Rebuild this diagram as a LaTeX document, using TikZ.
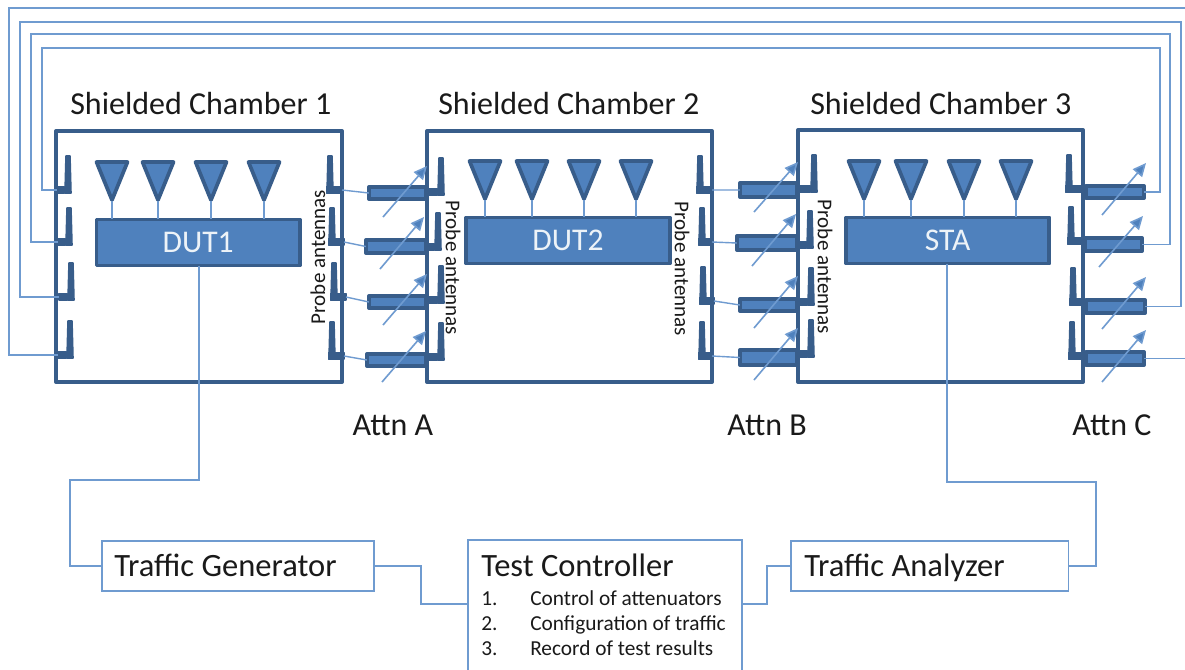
\documentclass[tikz,border=0pt]{standalone}
\usepackage{fontspec}
\setmainfont{Carlito}
\usetikzlibrary{arrows.meta}
\definecolor{bfill}{HTML}{4F81BD}
\definecolor{bdark}{HTML}{385D8A}
\definecolor{wire}{HTML}{6F9BD0}
\definecolor{txt}{HTML}{1A1A1A}
\tikzset{
 x=0.75pt,y=-0.75pt,
 chamber/.style={draw=bdark,line width=3pt,line join=round,inner sep=0pt,outer sep=0pt,anchor=north west},
 dutbox/.style={draw=bdark,fill=bfill,line width=2.8pt,line join=round,inner sep=0pt,outer sep=0pt,anchor=north west},
 attbox/.style={draw=bdark,fill=bfill,line width=2.8pt,line join=round,inner sep=0pt,outer sep=0pt,anchor=north west},
 tri/.style={draw=bdark,fill=bfill,line width=2.8pt,line join=round},
 wireline/.style={draw=wire,line width=1.05pt},
 boxline/.style={draw=wire,line width=1.05pt,inner sep=0pt,outer sep=0pt,anchor=north west},
 antbody/.style={fill=bdark,draw=bdark,line width=1.2pt,line join=round},
 arrowline/.style={draw=wire,line width=1.2pt,-{Triangle[length=10pt,width=9pt,fill=bfill]}},
 title/.style={text=txt,font=\fontsize{24pt}{28pt}\selectfont,inner sep=0pt,anchor=base west},
 boxtext/.style={text=txt,font=\fontsize{24.4pt}{28pt}\selectfont,inner sep=0pt,anchor=base west},
 attn/.style={text=txt,font=\fontsize{24pt}{28pt}\selectfont,inner sep=0pt},
 probe/.style={text=txt,font=\fontsize{15.8pt}{18pt}\selectfont,inner sep=0pt},
 listtext/.style={text=txt,font=\fontsize{16pt}{19pt}\selectfont,inner sep=0pt,anchor=base west},
 duttext/.style={text=white!90!bfill,font=\fontsize{23.7pt}{26pt}\selectfont,inner sep=0pt},
}
\newcommand{\antR}[4]{% name, x, top y, foot x (attached end)
 \coordinate (#1) at (#4,{#3+34});
 \draw[antbody] ({#2-2},#3) -- ({#2+2},#3) -- ({#2+3},{#3+37}) -- ({#2-3},{#3+37}) -- cycle;
 \draw[antbody] ({#2-3.4},{#3+30.5}) rectangle (#4,{#3+37});
}
\newcommand{\tria}[3]{% name, x, y
 \draw[tri] ({#2-15.5},#3) -- ({#2+15.5},#3) -- (#2,{#3+38}) -- cycle;
 \coordinate (#1) at (#2,{#3+39});
}
\newcommand{\atten}[7]{% name, x1,y1,x2,y2, arrow start, arrow tip
 \node[attbox,minimum width={(#4-#2-3.8)*0.75pt},minimum height={(#5-#3-3.8)*0.75pt}] (#1) at ({#2+1.9},{#3+1.9}) {};
 \draw[arrowline] (#6) -- (#7);
}
\begin{document}
\begin{tikzpicture}
\useasboundingbox (0,0) rectangle (1185,669);
\fill[white] (0,0) rectangle (1185,669);
% titles
\node[title] (t1) at (70,114) {Shielded Chamber 1};
\node[title] (t2) at (438,114) {Shielded Chamber 2};
\node[title] (t3) at (810,114) {Shielded Chamber 3};
\coordinate (e1) at (1185,8);
\coordinate (e2) at (1185,359);
% chambers
\node[chamber,minimum width=214.5pt,minimum height=188.25pt] (c1) at (56,131) {};
\node[chamber,minimum width=213.75pt,minimum height=188.25pt] (c2) at (427,131) {};
\node[chamber,minimum width=213.75pt,minimum height=189pt] (c3) at (798,130) {};
% DUTs
\node[dutbox,duttext,minimum width=152.5pt,minimum height=34.5pt] (d1) at (96.5,219.5) {DUT1};
\node[dutbox,duttext,minimum width=153pt,minimum height=34.5pt] (d2) at (466,217.5) {DUT2};
\node[dutbox,duttext,minimum width=152.5pt,minimum height=34.5pt] (d3) at (846,217.5) {STA};
% triangles
\foreach \i/\x in {1/112,2/158,3/211,4/264}{\tria{ta\i}{\x}{162}\draw[wireline] (ta\i) -- (\x,219);}
\foreach \i/\x in {1/485,2/532,3/584,4/636}{\tria{tb\i}{\x}{161}\draw[wireline] (tb\i) -- (\x,217);}
\foreach \i/\x in {1/864,2/911,3/964,4/1016}{\tria{tc\i}{\x}{161}\draw[wireline] (tc\i) -- (\x,217);}
% antennas
\antR{l1}{68}{156}{57}\antR{l2}{69}{208}{58}\antR{l3}{71}{263}{59}\antR{l4}{70}{321}{58}
\antR{a1}{330}{156}{342}\antR{a2}{332}{208}{344}\antR{a3}{334}{263}{346}\antR{a4}{332}{322}{344}
\antR{b1}{441}{158}{427}\antR{b2}{438}{213}{427}\antR{b3}{441}{266}{427}\antR{b4}{441}{323}{427}
\antR{f1}{700}{156}{712}\antR{f2}{702}{208}{712}\antR{f3}{703}{267}{714}\antR{f4}{702}{322}{712}
\antR{g1}{814}{155}{798}\antR{g2}{810}{211}{798}\antR{g3}{811}{268}{798}\antR{g4}{811}{320}{798}
\antR{h1}{1069}{155}{1083}\antR{h2}{1071}{207}{1083}\antR{h3}{1073}{268}{1083}\antR{h4}{1072}{322}{1083}
% attenuators
\coordinate (s1) at (383,217);\coordinate (p1) at (427,166);
\coordinate (s2) at (380,269);\coordinate (p2) at (424,217);
\coordinate (s3) at (383,325);\coordinate (p3) at (427,274);
\coordinate (s4) at (382,382);\coordinate (p4) at (426,331);
\atten{A1}{367}{185}{428}{201}{s1}{p1}
\atten{A2}{364}{238}{428}{255}{s2}{p2}
\atten{A3}{367}{294}{428}{310}{s3}{p3}
\atten{A4}{365}{352}{428}{368}{s4}{p4}
\coordinate (s5) at (754,212);\coordinate (p5) at (798,162);
\coordinate (s6) at (752,266);\coordinate (p6) at (796,214);
\coordinate (s7) at (754,328);\coordinate (p7) at (798,276);
\coordinate (s8) at (754,380);\coordinate (p8) at (798,328);
\atten{B1}{738}{181}{799}{199}{s5}{p5}
\atten{B2}{735}{234}{799}{252}{s6}{p6}
\atten{B3}{738}{297}{799}{313}{s7}{p7}
\atten{B4}{738}{348}{799}{367}{s8}{p8}
\coordinate (s9) at (1102,215);\coordinate (p9) at (1146,163);
\coordinate (s10) at (1099,267);\coordinate (p10) at (1143,216);
\coordinate (s11) at (1102,329);\coordinate (p11) at (1146,277);
\coordinate (s12) at (1102,382);\coordinate (p12) at (1146,330);
\atten{C1}{1084}{184}{1146}{200}{s9}{p9}
\atten{C2}{1083}{236}{1144}{253}{s10}{p10}
\atten{C3}{1084}{298}{1147}{315}{s11}{p11}
\atten{C4}{1084}{350}{1146}{367}{s12}{p12}
% antenna to attenuator wires
\draw[wireline] (a1) -- (A1.west);
\draw[wireline] (a2) -- (A2.west);
\draw[wireline] (a3) -- (A3.west);
\draw[wireline] (a4) -- (A4.west);
\draw[wireline] (f1) -- (B1.west);
\draw[wireline] (f2) -- (B2.west);
\draw[wireline] (f3) -- (B3.west);
\draw[wireline] (f4) -- (B4.west);
% loop wires
\draw[wireline] (l1) -- (l1 -| 42,0) -- (42,48) -- (1160,48) -- (C1.east -| 1160,0) -- (C1.east);
\draw[wireline] (l2) -- (l2 -| 31,0) -- (31,34) -- (1170,34) -- (C2.east -| 1170,0) -- (C2.east);
\draw[wireline] (l3) -- (l3 -| 20,0) -- (20,22) -- (1181,22) -- (C3.east -| 1181,0) -- (C3.east);
\draw[wireline] (l4) -- (l4 -| 9,0) -- (9,8) -- (e1);
\draw[wireline] (C4.east) -- (C4.east -| e2);
% lower boxes
\node[boxline,minimum width=204pt,minimum height=37.5pt] (tg) at (102,541) {};
\node[boxline,minimum width=205.5pt,minimum height=105pt] (tc) at (468,540) {};
\node[boxline,minimum width=208pt,minimum height=37.5pt] (ta) at (791,541) {};
\node[boxtext] (tgt) at (114,576) {Traffic Generator};
\node[boxtext] (tct) at (481,576) {Test Controller};
\node[boxtext] (tat) at (804,576) {Traffic Analyzer};
\node[listtext] at (481,605) {1.};
\node[listtext] at (530,605) {Control of attenuators};
\node[listtext] at (481,630) {2.};
\node[listtext] at (530,630) {Configuration of traffic};
\node[listtext] at (481,655) {3.};
\node[listtext] at (530,655) {Record of test results};
% lower wires
\draw[wireline] (d1.south -| 199,0) -- (199,480) -- (70,480) -- (tg.west -| 70,0) -- (tg.west);
\draw[wireline] (tg.east) -- (tg.east -| 421,0) -- (421,604) -- (tc.west |- 0,604);
\draw[wireline] (tc.east |- 0,604) -- (767,604) -- (ta.west -| 767,0) -- (ta.west);
\draw[wireline] (d3.south -| 947,0) -- (947,482) -- (1096,482) -- (ta.east -| 1096,0) -- (ta.east);
% labels
\node[attn] (la) at (393,425) {Attn A};
\node[attn] (lb) at (767,425) {Attn B};
\node[attn] (lc) at (1112,425) {Attn C};
\node[probe,rotate=90] (p1t) at (318,257) {Probe antennas};
\node[probe,rotate=-90] (p2t) at (453,268) {Probe antennas};
\node[probe,rotate=-90] (p3t) at (682,269) {Probe antennas};
\node[probe,rotate=-90] (p4t) at (825,267) {Probe antennas};
\end{tikzpicture}
\end{document}
